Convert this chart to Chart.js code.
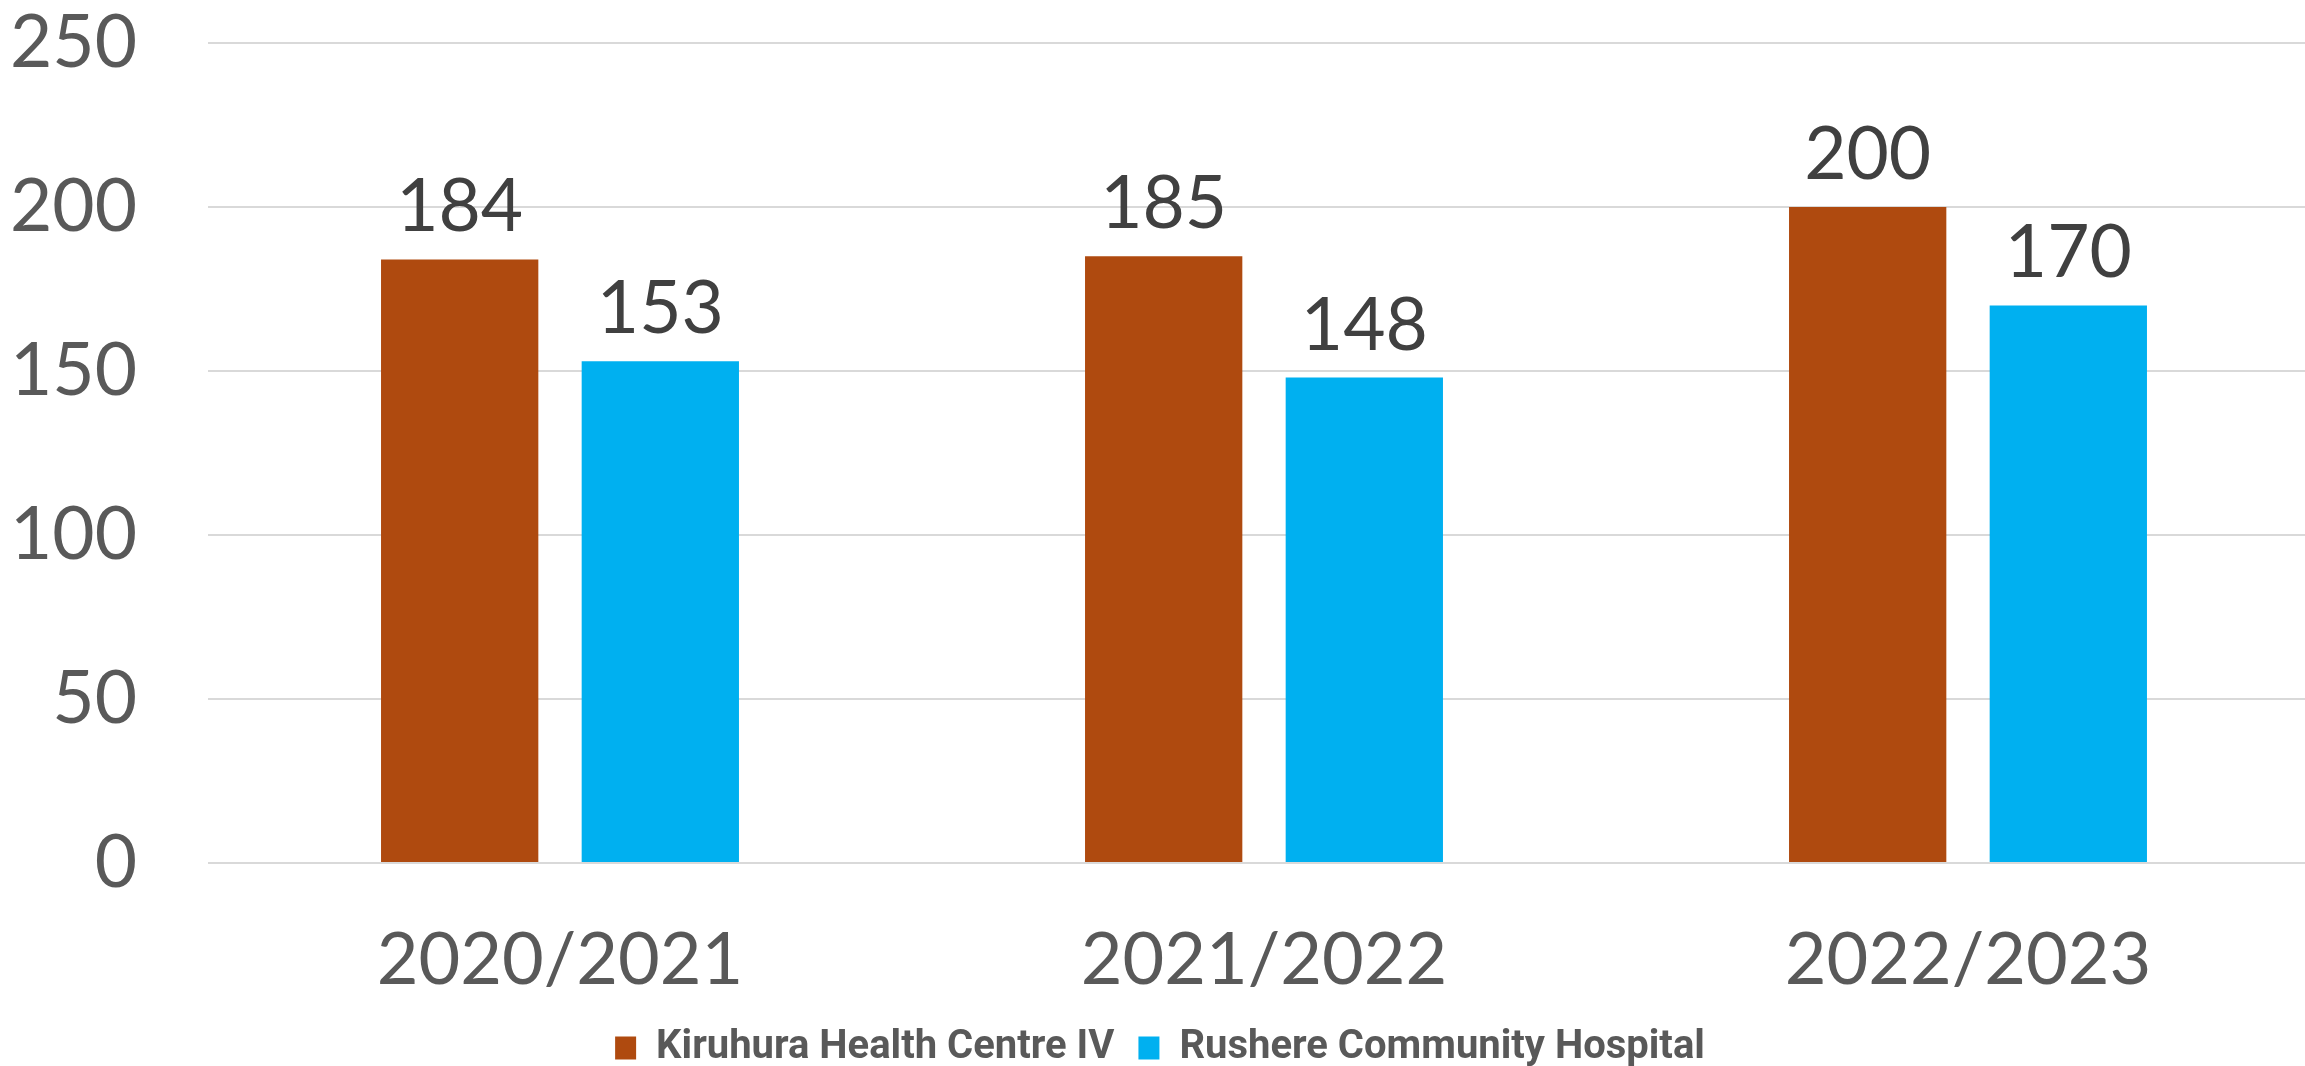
<!DOCTYPE html>
<html>
<head>
<meta charset="utf-8">
<script src="https://cdn.jsdelivr.net/npm/chart.js@4.4.1/dist/chart.umd.min.js"></script>
<style>
  html, body { margin: 0; padding: 0; background: #ffffff; overflow: hidden; }
  #wrap { position: relative; width: 2366px; height: 1066px; }
</style>
</head>
<body>
<div id="wrap"><canvas id="c"></canvas></div>
<script>
const categories = ["2020/2021", "2021/2022", "2022/2023"];
const seriesNames = ["Kiruhura Health Centre IV", "Rushere Community Hospital"];
const kiruhuraValues = [184, 185, 200];
const rushereValues = [153, 148, 170];
const yTicks = [0, 50, 100, 150, 200, 250];

const FONT = "Lato, 'Open Sans', sans-serif";

const valueLabels = {
  id: 'valueLabels',
  afterDatasetsDraw(chart) {
    const ctx = chart.ctx;
    ctx.save();
    ctx.font = "normal 73px " + FONT;
    ctx.fillStyle = "#404040";
    ctx.textAlign = "center";
    ctx.textBaseline = "alphabetic";
    chart.data.datasets.forEach((ds, i) => {
      const meta = chart.getDatasetMeta(i);
      meta.data.forEach((bar, j) => {
        ctx.fillText(String(ds.data[j]), bar.x, bar.y - 28);
      });
    });
    ctx.restore();
  }
};

new Chart(document.getElementById('c'), {
  type: 'bar',
  data: {
    labels: categories,
    datasets: [
      { label: seriesNames[0], data: kiruhuraValues, backgroundColor: '#AF4A0F',
        categoryPercentage: 0.57, barPercentage: 0.784 },
      { label: seriesNames[1], data: rushereValues, backgroundColor: '#00B0F0',
        categoryPercentage: 0.57, barPercentage: 0.784 }
    ]
  },
  options: {
    responsive: true,
    maintainAspectRatio: false,
    animation: false,
    devicePixelRatio: 1,
    layout: { padding: { left: 0, right: 46, top: 43, bottom: -12 } },
    plugins: {
      tooltip: { enabled: false },
      legend: {
        position: 'bottom',
        labels: {
          boxWidth: 21,
          boxHeight: 23,
          padding: 24,
          color: '#595959',
          font: { family: "Roboto, 'Open Sans', sans-serif", weight: 'bold', size: 40 }
        }
      }
    },
    scales: {
      x: {
        grid: { display: false, drawTicks: false },
        border: { display: false },
        ticks: { color: '#595959', padding: 55, font: { family: FONT, weight: 'normal', size: 72, lineHeight: 1.2 } },
        afterFit(s) { s.height = 141; s.paddingLeft = 0; s.paddingRight = 0; }
      },
      y: {
        min: 0,
        max: 250,
        afterBuildTicks(s) { s.ticks = yTicks.map(v => ({ value: v })); },
        grid: { color: '#D9D9D9', lineWidth: 2, drawTicks: false },
        border: { display: false },
        ticks: { color: '#595959', padding: 71, font: { family: FONT, weight: 'normal', size: 73 } },
        afterFit(s) { s.width = 208; s.paddingTop = 0; s.paddingBottom = 0; }
      }
    }
  },
  plugins: [valueLabels]
});
</script>
</body>
</html>
